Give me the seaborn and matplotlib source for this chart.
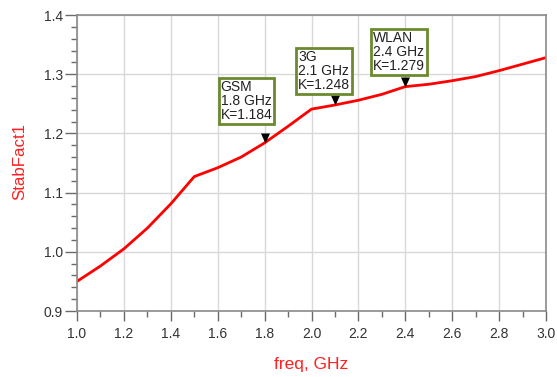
import numpy as np
import pandas as pd
import matplotlib
matplotlib.use("Agg")
import matplotlib.pyplot as plt
from matplotlib.ticker import MultipleLocator
import seaborn as sns

# ---- data ----
freq = [1.0, 1.1, 1.2, 1.3, 1.4, 1.5, 1.6, 1.7, 1.8, 1.9, 2.0,
        2.1, 2.2, 2.3, 2.4, 2.5, 2.6, 2.7, 2.8, 2.9, 3.0]
stab = [0.950, 0.976, 1.005, 1.040, 1.081, 1.127, 1.142, 1.160, 1.184, 1.212, 1.241,
        1.248, 1.256, 1.266, 1.279, 1.283, 1.289, 1.296, 1.306, 1.317, 1.328]

marker_names = ["GSM", "3G", "WLAN"]
marker_freq = [1.8, 2.1, 2.4]
marker_k = [1.184, 1.248, 1.279]

x_ticks = [1.0, 1.2, 1.4, 1.6, 1.8, 2.0, 2.2, 2.4, 2.6, 2.8, 3.0]
y_ticks = [0.9, 1.0, 1.1, 1.2, 1.3, 1.4]

df = pd.DataFrame({"freq": freq, "StabFact1": stab})

sns.set_theme(style="white")
plt.rcParams["font.family"] = ["Liberation Sans", "DejaVu Sans"]

fig = plt.figure(figsize=(5.57, 3.77), dpi=100)
ax = fig.add_axes([77 / 557, 1 - 311 / 377, 469 / 557, 296 / 377])

sns.lineplot(data=df, x="freq", y="StabFact1", ax=ax, color="#ff0000", lw=2.0)

ax.set_xlim(1.0, 3.0)
ax.set_ylim(0.9, 1.4)
ax.set_xticks(x_ticks)
ax.set_yticks(y_ticks)
ax.set_xticklabels([f"{v:.1f}" for v in x_ticks])
ax.set_yticklabels([f"{v:.1f}" for v in y_ticks])
ax.xaxis.set_minor_locator(MultipleLocator(0.1))
ax.yaxis.set_minor_locator(MultipleLocator(0.02))

ax.grid(True, which="major", color="#d8d8d8", lw=1.0)
ax.set_axisbelow(True)
for s in ax.spines.values():
    s.set_visible(True)
    s.set_color("#8a8a8a")
    s.set_linewidth(1.2)

ax.tick_params(axis="x", which="major", direction="out", length=7.2, width=1.0,
               color="#6a6a6a", labelsize=10, labelcolor="#333333", pad=4, bottom=True)
ax.tick_params(axis="x", which="minor", direction="out", length=4.3, width=1.0,
               color="#6a6a6a", bottom=True)
ax.tick_params(axis="y", which="major", direction="out", length=8.6, width=1.0,
               color="#6a6a6a", labelsize=10, labelcolor="#333333", pad=1.5, left=True)
ax.tick_params(axis="y", which="minor", direction="out", length=4.3, width=1.0,
               color="#6a6a6a", left=True)

ax.set_xlabel("freq, GHz", color="#ff2020", fontsize=12.5)
ax.set_ylabel("StabFact1", color="#ff2020", fontsize=12.2)
ax.xaxis.set_label_coords(0.5, -0.155)
ax.yaxis.set_label_coords(-0.106, 0.505)

# markers: downward triangle with tip on the data point
tri = [(-0.45, 1.0), (0.45, 1.0), (0.0, 0.0)]
ax.plot(marker_freq, marker_k, linestyle="none", marker=tri, markersize=14.4,
        color="black", mew=0, zorder=5)

box_offsets = [(-44, 21), (-37, 13), (-32, 14)]
for name, fx, k, off in zip(marker_names, marker_freq, marker_k, box_offsets):
    ax.annotate(f"{name}\n{fx:.1f} GHz\nK={k:.3f}", xy=(fx, k), xytext=off,
                textcoords="offset pixels", ha="left", va="bottom",
                fontsize=10, color="#222222", linespacing=1.0,
                bbox=dict(boxstyle="square,pad=0.15", fc="white", ec="#6b8a2e", lw=2),
                zorder=6)

fig.savefig("out.png", dpi=100)
